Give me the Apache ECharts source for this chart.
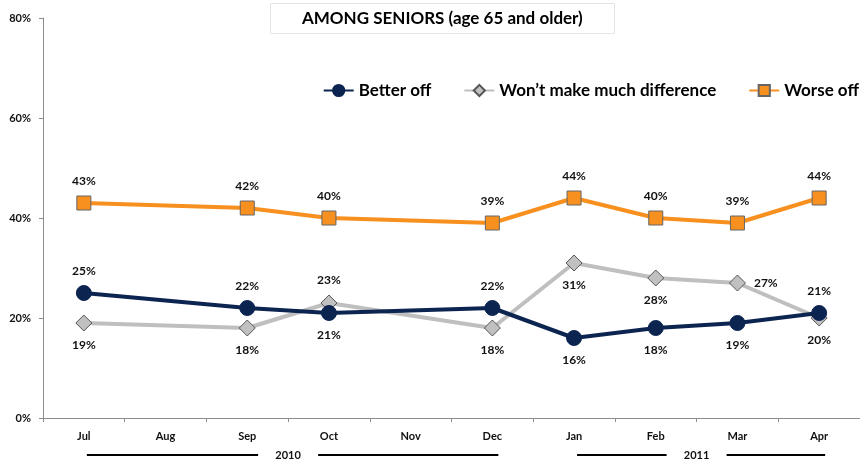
<!DOCTYPE html>
<html>
<head>
<meta charset="utf-8">
<script src="https://cdn.jsdelivr.net/npm/echarts@6/dist/echarts.min.js"></script>
<style>
html,body{margin:0;padding:0;background:#fff;}
#chart{width:860px;height:460px;}
</style>
</head>
<body>
<div id="chart"></div>
<script>
const months = ['Jul','Aug','Sep','Oct','Nov','Dec','Jan','Feb','Mar','Apr'];
const betterOff = [25, null, 22, 21, null, 22, 16, 18, 19, 21];
const noDifference = [19, null, 18, 23, null, 18, 31, 28, 27, 20];
const worseOff = [43, null, 42, 40, null, 39, 44, 40, 39, 44];
const yTicks = [0, 20, 40, 60, 80];
const years = [
  {label: '2010', from: 'Jul', to: 'Dec'},
  {label: '2011', from: 'Jan', to: 'Apr'}
];
// label placement per point (presentation only)
const betterPos = ['top', 'top', 'top', 'bottom', 'top', 'top', 'bottom', 'bottom', 'bottom', 'top'];
const noDiffPos = ['bottom', 'bottom', 'bottom', 'top', 'bottom', 'bottom', 'bottom', 'bottom', 'right', 'bottom'];

const FONT = 'Lato';
const labelStyle = {show: true, formatter: '{c}%', fontFamily: FONT, fontWeight: 'bold', fontSize: 12, color: '#111', distance: 8};

function withPos(values, pos) {
  return values.map((v, i) => ({value: v, label: {position: pos[i]}}));
}

const chart = echarts.init(document.getElementById('chart'));
const option = {
  animation: false,
  backgroundColor: '#fff',
  title: {
    text: 'AMONG SENIORS (age 65 and older)',
    left: 270, top: 3,
    padding: [7, 32, 7, 32],
    borderColor: '#e4e4e4', borderWidth: 1,
    textStyle: {fontFamily: FONT, fontWeight: 'bold', fontSize: 17, color: '#000'}
  },
  legend: {
    right: -4, top: 77,
    itemWidth: 30, itemHeight: 14, itemGap: 32,
    textStyle: {fontFamily: FONT, fontWeight: 'bold', fontSize: 17, color: '#000'},
    data: ['Better off', 'Won\u2019t make much difference', 'Worse off']
  },
  grid: {left: 43, right: 0, top: 18, bottom: 42},
  xAxis: {
    type: 'category', data: months, boundaryGap: true,
    axisLine: {lineStyle: {color: '#8c8c8c', width: 1}},
    axisTick: {show: true, length: 4, lineStyle: {color: '#8c8c8c'}},
    axisLabel: {fontFamily: FONT, fontWeight: 'bold', fontSize: 11, color: '#111', margin: 13}
  },
  yAxis: {
    type: 'value', min: yTicks[0], max: yTicks[yTicks.length - 1], interval: 20,
    splitLine: {show: false},
    axisLine: {show: true, lineStyle: {color: '#8c8c8c', width: 1}},
    axisTick: {show: true, length: 4, lineStyle: {color: '#8c8c8c'}},
    axisLabel: {fontFamily: FONT, fontWeight: 'bold', fontSize: 11, color: '#111', formatter: '{value}%', margin: 12}
  },
  series: [
    {
      name: 'Better off', type: 'line', connectNulls: true, z: 4,
      data: withPos(betterOff, betterPos),
      symbol: 'circle', symbolSize: 15,
      lineStyle: {color: '#0c2450', width: 4},
      itemStyle: {color: '#0c2450', borderColor: '#0c2450', borderWidth: 1},
      label: labelStyle
    },
    {
      name: 'Won\u2019t make much difference', type: 'line', connectNulls: true, z: 3,
      data: withPos(noDifference, noDiffPos),
      symbol: 'diamond', symbolSize: 16,
      lineStyle: {color: '#bfbfbf', width: 4},
      itemStyle: {color: '#c0c0c0', borderColor: '#555', borderWidth: 1},
      label: labelStyle
    },
    {
      name: 'Worse off', type: 'line', connectNulls: true, z: 2,
      data: worseOff,
      symbol: 'rect', symbolSize: 14,
      lineStyle: {color: '#f7901e', width: 4},
      itemStyle: {color: '#f7901e', borderColor: '#666', borderWidth: 1},
      label: Object.assign({}, labelStyle, {position: 'top'})
    }
  ]
};
chart.setOption(option);

// Year brackets under the axis, positioned from the category axis
const graphics = [];
const yLine = 455;
years.forEach(y => {
  const x1 = chart.convertToPixel({xAxisIndex: 0}, y.from);
  const x2 = chart.convertToPixel({xAxisIndex: 0}, y.to);
  const cx = (x1 + x2) / 2;
  const gap = 30;
  graphics.push({type: 'line', shape: {x1: x1 + 3, y1: yLine, x2: cx - gap, y2: yLine}, style: {stroke: '#000', lineWidth: 2}});
  graphics.push({type: 'line', shape: {x1: cx + gap, y1: yLine, x2: x2 + 6, y2: yLine}, style: {stroke: '#000', lineWidth: 2}});
  graphics.push({type: 'text', x: cx, y: yLine, style: {text: y.label, fontFamily: FONT, fontWeight: 'bold', fontSize: 11, fill: '#111', align: 'center', verticalAlign: 'middle'}});
});
chart.setOption({graphic: graphics});
</script>
</body>
</html>
